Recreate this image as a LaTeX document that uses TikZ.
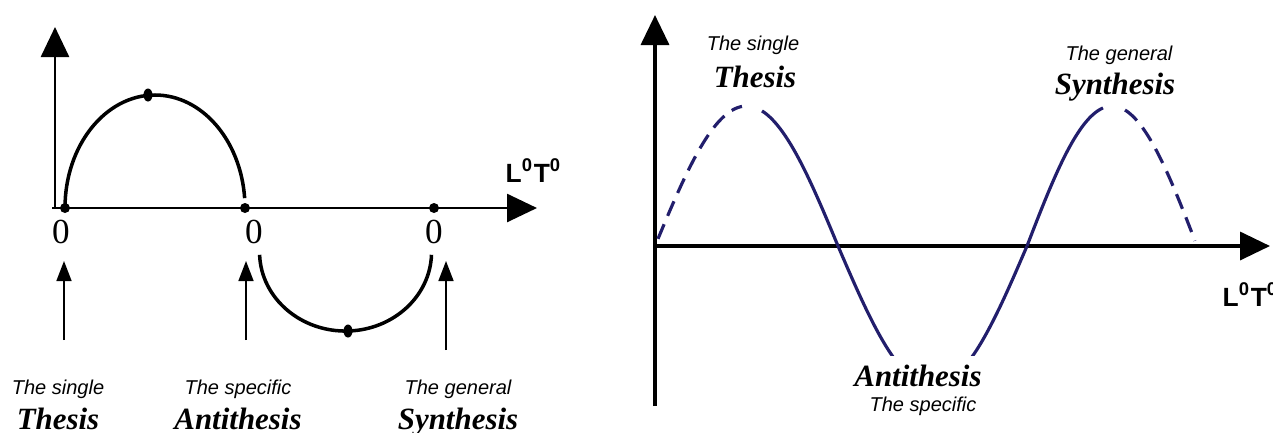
\documentclass[tikz,border=0pt]{standalone}
\usepackage{fontspec}
\setmainfont{Liberation Serif}
\setsansfont{Liberation Sans}
\usetikzlibrary{arrows.meta,shapes.geometric}
\definecolor{dlnavy}{RGB}{34,30,108}
\tikzset{dlaxis/.style={line width=0.75pt,-{Triangle[length=3mm,width=2.8mm]}},
         dlup/.style={line width=0.45pt,-{Triangle[length=2mm,width=1.5mm]}},
         dldot/.style={ellipse,fill=black,inner sep=0pt,minimum width=1mm,minimum height=1mm},
         dlcurve/.style={line width=1pt},
         dlwave/.style={dlnavy,line width=0.9pt},
         dldash/.style={dlwave,dash pattern=on 4.5pt off 2.6pt},
         dlsmall/.style={font=\sffamily\itshape\fontsize{5.7}{6.5}\selectfont,anchor=base},
         dlbig/.style={font=\bfseries\itshape\fontsize{8.8}{10}\selectfont,anchor=base},
         dlzero/.style={font=\fontsize{10}{12}\selectfont,anchor=base},
         dlunit/.style={font=\sffamily\bfseries\fontsize{7.5}{9}\selectfont,anchor=base west,inner sep=0pt}}

\begin{document}
\begin{tikzpicture}
  \useasboundingbox (0,0) rectangle (12.73,4.32);
  % left: the circle of thesis, antithesis, synthesis
  \coordinate (lo) at (0.55,2.24); \coordinate (ly) at (0.55,4.05);
  \coordinate (lx0) at (0.52,2.24); \coordinate (lx) at (5.37,2.24);
  \draw[dlaxis] (lo) -- (ly); \draw[dlaxis] (lx0) -- (lx);
  \draw[dlcurve] (0.65,2.24) arc[start angle=180,end angle=5,x radius=0.9,y radius=1.13];
  \draw[dlcurve] (2.596,1.772) arc[start angle=182,end angle=358,x radius=0.86,y radius=0.79];
  \foreach \n/\x in {1/0.65,2/2.45,3/4.34}
    {\node[dldot] (d\n) at (\x,2.24) {};}
  \node[dldot,minimum width=0.9mm,minimum height=1.3mm] (pk) at (1.48,3.37) {};
  \node[dldot,minimum width=0.9mm,minimum height=1.3mm] (tr) at (3.48,1.01) {};
  \foreach \n/\x in {1/0.61,2/2.54,3/4.34}
    {\node[dlzero] (z\n) at (\x,1.89) {0};}
  \foreach \n/\x/\lo in {1/0.64/0.92,2/2.46/0.92,3/4.46/0.82}
    {\coordinate (ab\n) at (\x,\lo); \coordinate (at\n) at (\x,1.71); \draw[dlup] (ab\n) -- (at\n);}
  \foreach \n/\x/\a/\b in {th/0.58/The single/Thesis,an/2.38/The specific/Antithesis,sy/4.58/The general/Synthesis}
    {\node[dlsmall] (s\n) at (\x,0.38) {\a}; \node[dlbig] (b\n) at (\x,0.03) {\b};}
  \node[dlunit] (lu) at (5.05,2.50) {L\textsuperscript{0}T\textsuperscript{0}};

  % right: the wave
  \coordinate (ro) at (6.55,0.26); \coordinate (ry) at (6.55,4.17);
  \coordinate (rx0) at (6.55,1.86); \coordinate (rx) at (12.70,1.86);
  \draw[dlaxis,line width=1pt] (ro) -- (ry); \draw[dlaxis,line width=1pt] (rx0) -- (rx);
  \draw[dldash] plot[domain=6.58:7.42,samples=40] (\x,{1.86+1.40*sin((\x-6.55)/1.83*180)});
  \draw[dlwave] plot[domain=7.62:8.38,samples=40] (\x,{1.86+1.40*sin((\x-6.55)/1.83*180)});
  \draw[dlwave] plot[domain=8.38:10.27,samples=80] (\x,{1.86-1.40*sin((\x-8.38)/1.89*180)});
  \draw[dlwave] plot[domain=10.27:11.03,samples=40] (\x,{1.86+1.40*sin((\x-10.27)/1.70*180)});
  \draw[dldash] plot[domain=11.25:11.95,samples=40] (\x,{1.86+1.40*sin((\x-10.27)/1.70*180)});
  \node[dlsmall] (rsth) at (7.53,3.82) {The single};
  \node[dlbig] (rbth) at (7.55,3.45) {Thesis};
  \node[dlsmall] (rssy) at (11.19,3.72) {The general};
  \node[dlbig] (rbsy) at (11.15,3.38) {Synthesis};
  \node[dlbig,fill=white,inner sep=2.5pt] (rban) at (9.18,0.46) {Antithesis};
  \node[dlsmall] (rsan) at (9.23,0.21) {The specific};
  \node[dlunit] (ru) at (12.22,1.26) {L\textsuperscript{0}T\textsuperscript{0}};
\end{tikzpicture}
\end{document}
